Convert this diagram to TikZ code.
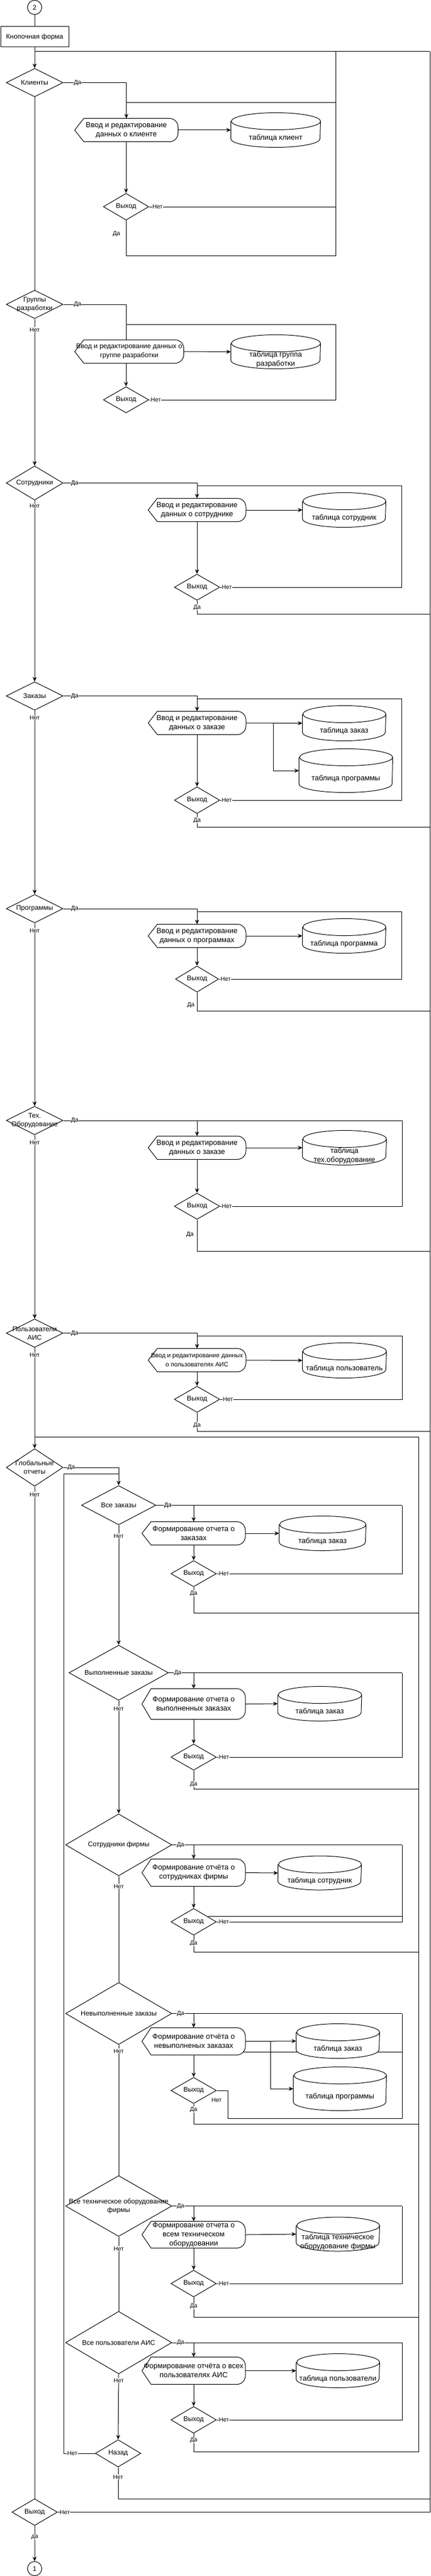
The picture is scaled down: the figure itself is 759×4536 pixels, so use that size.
\documentclass[tikz,border=0pt]{standalone}
\usepackage{fontspec}
\setmainfont{Liberation Sans}
\usepackage{tikz}
\usetikzlibrary{positioning, arrows.meta, shapes.geometric, backgrounds}

\begin{document}
\begin{tikzpicture}[x=1pt, y=-1pt, line width=1pt, font=\fontsize{12}{15}\selectfont,
  every label/.style={align=center},
  dec/.style 2 args={diamond, draw, fill=white, inner sep=0pt, minimum width=#1pt, minimum height=#2pt},
  proc/.style 2 args={inner sep=0pt, align=center, minimum width=#1pt, minimum height=#2pt, font=\fontsize{13}{16}\selectfont},
  db/.style 2 args={inner sep=0pt, minimum width=#1pt, minimum height=#2pt},
  tab/.style={yshift=-14pt, font=\fontsize{13}{16}\selectfont},
  lab/.style={fill=white, inner sep=0.5pt, font=\fontsize{10.5}{12}\selectfont},
  con/.style={circle, draw, fill=white, minimum size=25pt, inner sep=0pt},
  outl/.style={draw, fill=white, line width=1pt},
  ar/.style={-{Stealth[length=8pt, width=7pt]}}]

\useasboundingbox (0,0) rectangle (759,4536);

% --- START ---
\node[con] (c2) at (61,13) {2};
\node[draw, minimum width=120pt, minimum height=36pt, inner sep=0pt] (kf) at (61,65) {Кнопочная форма};

% --- MAIN DECISIONS ---
\node[dec={100}{50}, label={center:Клиенты}] (d1) at (61,145.5) {};
\node[dec={100}{50}, label={center:Группы\\разработки}] (d2) at (61,536) {};
\node[dec={100}{60}, label={center:Сотрудники}] (d3) at (61,850.5) {};
\node[dec={100}{50}, label={center:Заказы}] (d4) at (61,1225.5) {};
\node[dec={100}{50}, label={center:Программы}] (d5) at (61,1600) {};
\node[dec={100}{50}, label={center:Тех.\\Оборудование}] (d6) at (61,1973) {};
\node[dec={100}{50}, label={center:Пользователи\\АИС}] (d7) at (61,2347.5) {};
\node[dec={100}{66}, label={center:Глобальные\\отчеты}] (d8) at (61,2584) {};
\node[dec={80}{47}, label={center:Выход}] (fx) at (61,4423.5) {};
\node[con] (c1) at (61,4523) {1};

% --- INPUT FORMS ---
\node[proc={181}{40}] (p1) at (222.5,229) {Ввод и редактирование\\данных о клиенте};
\node[proc={191}{40}, font=\fontsize{12}{16}\selectfont] (p2) at (227.5,619) {Ввод и редактирование данных о\\группе разработки};
\node[proc={171}{40}] (p3) at (347,898) {Ввод и редактирование\\данных о сотруднике};
\node[proc={171}{40}] (p4) at (347,1273) {Ввод и редактирование\\данных о заказе};
\node[proc={171}{40}] (p5) at (347,1648) {Ввод и редактирование\\данных о программах};
\node[proc={171}{40}] (p6) at (347,2021) {Ввод и редактирование\\данных о заказе};
\node[proc={171}{40}, font=\fontsize{11}{16}\selectfont] (p7) at (347,2395) {Ввод и редактирование данных\\о пользователях АИС};

% --- TABLES ---
\node[db={157}{60}, label={[tab]center:таблица клиент}] (t1) at (485.5,229) {};
\node[db={157}{59}, label={[tab]center:таблица группа\\разработки}] (t2) at (485.5,619.5) {};
\node[db={146}{60}, label={[tab]center:таблица сотрудник}] (t3) at (606,898) {};
\node[db={146}{61}, label={[tab]center:таблица заказ}] (t4a) at (606,1273.5) {};
\node[db={164}{76}, label={[tab]center:таблица программы}] (t4b) at (609,1357) {};
\node[db={146}{60}, label={[tab]center:таблица программа}] (t5) at (606,1648) {};
\node[db={147}{60}, label={[tab]center:таблица\\тех.оборудование}] (t6) at (606.5,2021) {};
\node[db={147}{61}, label={[tab]center:таблица пользователь}] (t7) at (606.5,2395.5) {};

% --- EXIT DECISIONS ---
\node[dec={80}{47}, label={center:Выход}] (e1) at (222,364) {};
\node[dec={80}{46}, label={center:Выход}] (e2) at (222,704) {};
\node[dec={80}{46}, label={center:Выход}] (e3) at (347,1034) {};
\node[dec={80}{47}, label={center:Выход}] (e4) at (347,1409) {};
\node[dec={76}{46}, label={center:Выход}] (e5) at (347,1724) {};
\node[dec={80}{46}, label={center:Выход}] (e6) at (347,2124) {};
\node[dec={80}{46}, label={center:Выход}] (e7) at (347,2464) {};

% --- GLOBAL REPORTS ---
\node[dec={131}{69}, label={center:Все заказы}] (q1) at (209,2650.5) {};
\node[dec={175}{97}, label={center:Выполненные заказы}] (q2) at (209,2945.5) {};
\node[dec={187}{109}, label={center:Сотрудники фирмы}] (q3) at (209,3248.5) {};
\node[dec={187}{109}, label={center:Невыполненные заказы}] (q4) at (209,3545.5) {};
\node[dec={187}{107}, label={center:Все техническое оборудование\\фирмы}] (q5) at (209,3884.5) {};
\node[dec={187}{110}, label={center:Все пользователи АИС}] (q6) at (209,4125) {};
\node[dec={80}{48}, label={center:Назад}] (nz) at (208,4320) {};

\node[proc={181}{40}] (s1) at (341,2700) {Формирование отчета о\\заказах};
\node[proc={181}{53}] (s2) at (341,3000.5) {Формирование отчета о\\выполненных заказах};
\node[proc={181}{47}] (s3) at (341,3297.5) {Формирование отчёта о\\сотрудниках фирмы};
\node[proc={181}{47}] (s4) at (341,3594.5) {Формирование отчёта о\\невыполненых заказах};
\node[proc={181}{46}] (s5) at (341,3935) {Формирование отчета о\\всем техническом\\оборудовании};
\node[proc={181}{47}] (s6) at (341,4174.5) {Формирование отчёта о всех\\пользователях АИС};

\node[db={152}{60}, label={[tab]center:таблица заказ}] (u1) at (568,2700) {};
\node[db={147}{60}, label={[tab]center:таблица заказ}] (u2) at (563,3000) {};
\node[db={146}{59}, label={[tab]center:таблица сотрудник}] (u3) at (563,3298) {};
\node[db={146}{60}, label={[tab]center:таблица заказ}] (u4a) at (595,3594) {};
\node[db={163}{76}, label={[tab]center:таблица программы}] (u4b) at (598.5,3678) {};
\node[db={146}{59}, label={[tab]center:таблица техническое\\оборудование фирмы}] (u5) at (595,3934) {};
\node[db={146}{59}, label={[tab]center:таблица пользователи}] (u6) at (595,4174.5) {};

\node[dec={80}{46}, label={center:Выход}] (x1) at (341,2771) {};
\node[dec={80}{46}, label={center:Выход}] (x2) at (341,3094) {};
\node[dec={80}{47}, label={center:Выход}] (x3) at (341,3384) {};
\node[dec={80}{46}, label={center:Выход}] (x4) at (341,3681) {};
\node[dec={80}{47}, label={center:Выход}] (x5) at (341,4021) {};
\node[dec={80}{47}, label={center:Выход}] (x6) at (341,4261) {};

% --- BEND POINTS ---
\coordinate (top) at (61,91); \coordinate (topR) at (757,91);
\coordinate (b1) at (591,181); \coordinate (b1n) at (591,450);
\coordinate (b2) at (591,571);
\coordinate (b3) at (707.5,855); \coordinate (y3) at (757,1081);
\coordinate (b4) at (707.5,1230); \coordinate (y4) at (757,1456); \coordinate (k4) at (481,1273);
\coordinate (b5) at (707.5,1605); \coordinate (y5) at (757,1780);
\coordinate (b6) at (708,1973); \coordinate (y6) at (757,2203);
\coordinate (b7) at (708,2352.5); \coordinate (y7) at (757,2520);
\coordinate (g0) at (61,2530); \coordinate (nb) at (112.5,2595);
\coordinate (h1) at (708,2650.5); \coordinate (gy1) at (737.5,2840);
\coordinate (h2) at (708,2945.5); \coordinate (gy2) at (737.5,3150);
\coordinate (h3) at (708,3248.5); \coordinate (gy3) at (737.5,3437);
\coordinate (h4) at (708,3545.5); \coordinate (gy4) at (737.5,3740);
\coordinate (k4b) at (476,3594); \coordinate (n4) at (401,3730); \coordinate (m4) at (428,3613);
\coordinate (h5) at (708,3884.5); \coordinate (gy5) at (737.5,4080);
\coordinate (h6) at (708,4125); \coordinate (gy6) at (737.5,4317);
\coordinate (nzR) at (757,4400);

% --- SHAPE OUTLINES ---
\begin{scope}[on background layer]
\draw[line width=1pt] (m4) -- (m4 -| h4);
\foreach \n in {p1,p2,p3,p4,p5,p6,p7,s1,s2,s3,s4,s5,s6}
  \path[outl] ([xshift=16pt]\n.north west) -- ([xshift=-15pt]\n.north east) arc[start angle=90, end angle=0, radius=15pt] -- ([yshift=15pt]\n.south east) arc[start angle=0, end angle=-90, radius=15pt] -- ([xshift=16pt]\n.south west) -- (\n.west) -- cycle;
\foreach \n/\r in {t1/78.5, t2/78.5, t3/73, t4a/73, t4b/82, t5/73, t6/73.5, t7/73.5, u1/76, u2/73.5, u3/73, u4a/73, u4b/81.5, u5/73, u6/73}
  \path[outl] ([yshift=-15pt]\n.north west) -- ([yshift=15pt]\n.south west) arc[start angle=180, end angle=360, x radius=\r pt, y radius=15pt] -- ([yshift=-15pt]\n.north east) arc[start angle=0, end angle=360, x radius=\r pt, y radius=15pt];
\end{scope}

% --- MAIN LINE ---
\draw (c2.south) -- (kf.north);
\draw[ar] (kf.south) -- (d1.north);
\draw (top) -- (topR);
\draw (fx.east) -| (topR);
\draw (d1.south) -- (d2.north);
\draw[ar] (d2.south) -- (d3.north);
\draw[ar] (d3.south) -- (d4.north);
\draw[ar] (d4.south) -- (d5.north);
\draw[ar] (d5.south) -- (d6.north);
\draw[ar] (d6.south) -- (d7.north);
\draw[ar] (d7.south) -- (d8.north);
\draw (d8.south) -- (fx.north);
\draw[ar] (fx.south) -- (c1.north);

% --- CLIENTS ---
\draw[ar] (d1.east) -| (p1.north);
\draw[ar] (p1.east) -- (t1.west);
\draw[ar] (e1.north |- p1.south) -- (e1.north);
\draw (e1.east) -| (b1) -- (b1 -| p1.north);
\draw (e1.south) |- (b1n) -- (b1 |- top);

% --- GROUPS ---
\draw (d2.east) -| (e2.north |- p2.north);
\draw[ar] (p2.east) -- (t2.west);
\draw[ar] (e2.north |- p2.south) -- (e2.north);
\draw (e2.east) -| (b2) -- (b2 -| e2.north);

% --- EMPLOYEES ---
\draw[ar] (d3.east) -| (p3.north);
\draw[ar] (p3.east) -- (t3.west);
\draw[ar] (p3.south) -- (e3.north);
\draw (e3.east) -| (b3) -- (b3 -| p3.north);
\draw (e3.south) |- (y3);

% --- ORDERS ---
\draw[ar] (d4.east) -| (p4.north);
\draw[ar] (p4.east) -- (t4a.west);
\draw[ar] (k4) |- (t4b.west);
\draw[ar] (p4.south) -- (e4.north);
\draw (e4.east) -| (b4) -- (b4 -| p4.north);
\draw (e4.south) |- (y4);

% --- PROGRAMS ---
\draw[ar] (d5.east) -| (p5.north);
\draw[ar] (p5.east) -- (t5.west);
\draw[ar] (p5.south) -- (e5.north);
\draw (e5.east) -| (b5) -- (b5 -| p5.north);
\draw (e5.south) |- (y5);

% --- EQUIPMENT ---
\draw[ar] (d6.east) -| (p6.north);
\draw[ar] (p6.east) -- (t6.west);
\draw[ar] (p6.south) -- (e6.north);
\draw (e6.east) -| (b6) -- (b6 -| p6.north);
\draw (e6.south) |- (y6);

% --- USERS ---
\draw[ar] (d7.east) -| (p7.north);
\draw[ar] (p7.east) -- (t7.west);
\draw[ar] (p7.south) -- (e7.north);
\draw (e7.east) -| (b7) -- (b7 -| p7.north);
\draw (e7.south) |- (y7);

% --- GLOBAL REPORTS ---
\draw (g0) -| (gy6);
\draw[ar] (d8.east) -| (q1.north);
\draw (nz.west) -| (nb) -- (nb -| q1.north);
\draw (nz.south) |- (nzR);

\draw (q1.east) -- (h1);
\draw[ar] (q1.east -| s1.north) -- (s1.north);
\draw[ar] (s1.east) -- (u1.west);
\draw[ar] (s1.south) -- (x1.north);
\draw (x1.east) -| (h1);
\draw (x1.south) |- (gy1);
\draw[ar] (q1.south) -- (q2.north);

\draw (q2.east) -- (h2);
\draw[ar] (q2.east -| s2.north) -- (s2.north);
\draw[ar] (s2.east) -- (u2.west);
\draw[ar] (s2.south) -- (x2.north);
\draw (x2.east) -| (h2);
\draw (x2.south) |- (gy2);
\draw[ar] (q2.south) -- (q3.north);

\draw (q3.east) -- (h3);
\draw[ar] (q3.east -| s3.north) -- (s3.north);
\draw[ar] (s3.east) -- (u3.west);
\draw[ar] (s3.south) -- (x3.north);
\draw (x3.east) -| (h3);
\draw (x3.20) -- (x3.20 -| h3);
\draw (x3.south) |- (gy3);
\draw (q3.south) -- (q4.north);

\draw (q4.east) -- (h4);
\draw[ar] (q4.east -| s4.north) -- (s4.north);
\draw[ar] (s4.east) -- (u4a.west);
\draw[ar] (k4b) |- (u4b.west);
\draw[ar] (s4.south) -- (x4.north);
\draw (x4.east) -| (n4) -| (h4);
\draw (x4.south) |- (gy4);
\draw (q4.south) -- (q5.north);

\draw (q5.east) -- (h5);
\draw[ar] (q5.east -| s5.north) -- (s5.north);
\draw[ar] (s5.east) -- (u5.west);
\draw[ar] (s5.south) -- (x5.north);
\draw (x5.east) -| (h5);
\draw (x5.south) |- (gy5);
\draw (q5.south) -- (q6.north);

\draw (q6.east) -- (h6);
\draw[ar] (q6.east -| s6.north) -- (s6.north);
\draw[ar] (s6.east) -- (u6.west);
\draw[ar] (s6.south) -- (x6.north);
\draw (x6.east) -| (h6);
\draw (x6.south) |- (gy6);
\draw[ar] (q6.south) -- (nz.north);

% --- YES / NO LABELS ---
\node[lab] (ld1) at ([xshift=25pt]d1.east) {Да};
\node[lab] (ld2) at ([xshift=25pt]d2.east) {Да};
\node[lab] (ld3) at ([xshift=20pt]d3.east) {Да};
\node[lab] (ld4) at ([xshift=20pt]d4.east) {Да};
\node[lab] (ld5) at ([xshift=20pt]d5.east) {Да};
\node[lab] (ld6) at ([xshift=20pt]d6.east) {Да};
\node[lab] (ld7) at ([xshift=20pt]d7.east) {Да};
\node[lab] (ld8) at ([xshift=14pt]d8.east) {Да};
\node[lab] (ln2) at ([yshift=-19pt]d2.south) {Нет};
\node[lab] (ln3) at ([yshift=-10pt]d3.south) {Нет};
\node[lab] (ln4) at ([yshift=-13pt]d4.south) {Нет};
\node[lab] (ln5) at ([yshift=-13pt]d5.south) {Нет};
\node[lab] (ln6) at ([yshift=-13pt]d6.south) {Нет};
\node[lab] (ln7) at ([yshift=-13pt]d7.south) {Нет};
\node[lab] (ln8) at ([yshift=-14pt]d8.south) {Нет};

\node[lab] (le1n) at ([xshift=15pt]e1.east) {Нет};
\node[lab] (le2n) at ([xshift=12pt]e2.east) {Нет};
\node[lab] (le3n) at ([xshift=12pt]e3.east) {Нет};
\node[lab] (le4n) at ([xshift=12pt]e4.east) {Нет};
\node[lab] (le5n) at ([xshift=12pt]e5.east) {Нет};
\node[lab] (le6n) at ([xshift=12pt]e6.east) {Нет};
\node[lab] (le7n) at ([xshift=14pt]e7.east) {Нет};
\node[lab] (le1y) at ([xshift=-17pt, yshift=-23.5pt]e1.south) {Да};
\node[lab] (le3y) at ([yshift=-12pt]e3.south) {Да};
\node[lab] (le4y) at ([yshift=-11.5pt]e4.south) {Да};
\node[lab] (le5y) at ([xshift=-11pt, yshift=-22pt]e5.south) {Да};
\node[lab] (le6y) at ([xshift=-12.5pt, yshift=-26.5pt]e6.south) {Да};
\node[lab] (le7y) at ([yshift=-22pt]e7.south) {Да};

\node[lab] (lq1y) at ([xshift=20.5pt]q1.east) {Да};
\node[lab] (lq2y) at ([xshift=16pt]q2.east) {Да};
\node[lab] (lq3y) at ([xshift=15pt]q3.east) {Да};
\node[lab] (lq4y) at ([xshift=15pt]q4.east) {Да};
\node[lab] (lq5y) at ([xshift=15pt]q5.east) {Да};
\node[lab] (lq6y) at ([xshift=15pt]q6.east) {Да};
\node[lab] (lq1n) at ([yshift=-19pt]q1.south) {Нет};
\node[lab] (lq2n) at ([yshift=-14pt]q2.south) {Нет};
\node[lab] (lq3n) at ([yshift=-18pt]q3.south) {Нет};
\node[lab] (lq4n) at ([yshift=-11pt]q4.south) {Нет};
\node[lab] (lq5n) at ([yshift=-21pt]q5.south) {Нет};
\node[lab] (lq6n) at ([yshift=-11pt]q6.south) {Нет};

\node[lab] (lx1n) at ([xshift=13pt]x1.east) {Нет};
\node[lab] (lx2n) at ([xshift=13pt]x2.east) {Нет};
\node[lab] (lx3n) at ([xshift=13pt]x3.east) {Нет};
\node[lab] (lx4n) at ([yshift=-16.5pt]x4.east) {Нет};
\node[lab] (lx5n) at ([xshift=13pt]x5.east) {Нет};
\node[lab] (lx6n) at ([xshift=13pt]x6.east) {Нет};
\node[lab] (lx1y) at ([yshift=-11pt]x1.south) {Да};
\node[lab] (lx2y) at ([yshift=-24pt]x2.south) {Да};
\node[lab] (lx3y) at ([yshift=-14pt]x3.south) {Да};
\node[lab] (lx4y) at ([yshift=-10pt]x4.south) {Да};
\node[lab] (lx5y) at ([yshift=-16pt]x5.south) {Да};
\node[lab] (lx6y) at ([yshift=-12pt]x6.south) {Да};

\node[lab] (lnzl) at ([xshift=-40pt]nz.west) {Нет};
\node[lab] (lnzs) at ([yshift=-17pt]nz.south) {Нет};
\node[lab] (lfxn) at ([xshift=12.5pt]fx.east) {Нет};
\node[lab] (lfxy) at ([yshift=-20pt]fx.south) {да};
\end{tikzpicture}
\end{document}
